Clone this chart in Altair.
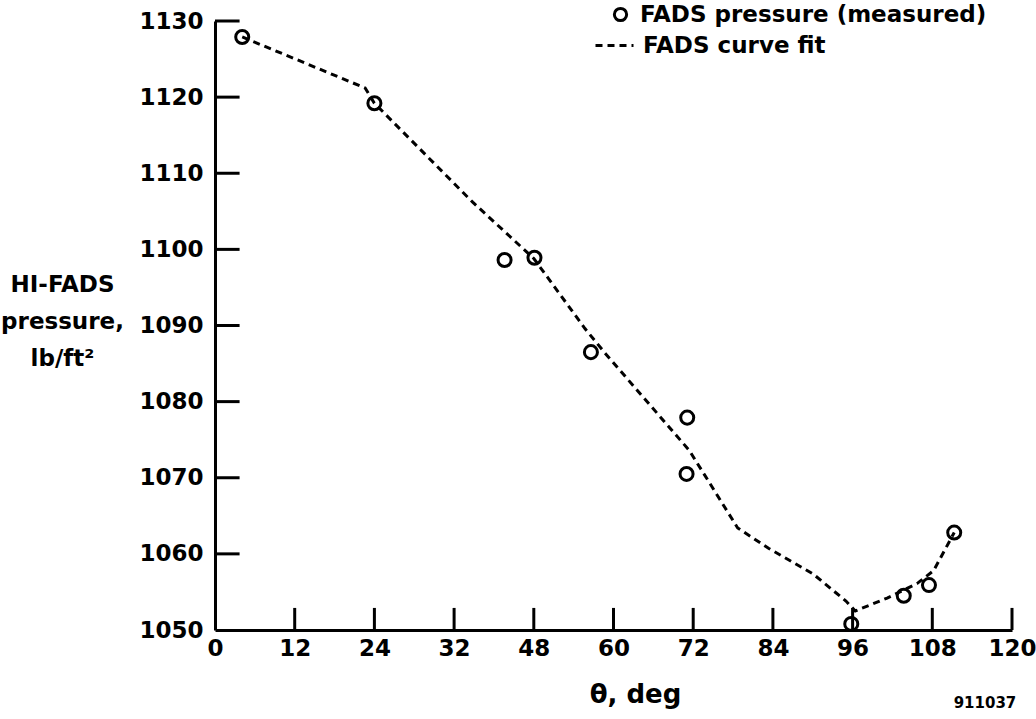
import altair as alt
import pandas as pd

# Measured FADS pressure points
theta_meas = [4.1, 24.0, 43.6, 48.1, 56.6, 71.1, 71.0, 95.8, 103.7, 107.5, 111.3]
p_meas = [1127.9, 1119.2, 1098.6, 1098.9, 1086.5, 1077.9, 1070.5, 1050.8, 1054.5, 1055.9, 1062.8]

# Curve fit vertices
theta_fit = [4.1, 22.6, 24.0, 38.8, 48.0, 55.7, 58.7, 71.4, 78.7, 83.4, 90.0, 95.0, 96.4, 101.2, 105.7, 108.2, 111.3]
p_fit = [1127.9, 1121.2, 1119.2, 1106.2, 1098.8, 1089.6, 1086.4, 1073.6, 1063.4, 1060.7, 1057.4, 1053.8, 1052.5, 1054.2, 1056.1, 1057.8, 1062.8]

# Axis ticks
x_ticks = [0, 12, 24, 36, 48, 60, 72, 84, 96, 108, 120]
x_inner_ticks = [12, 24, 36, 48, 60, 72, 84, 96, 108, 120]
y_ticks = [1050, 1060, 1070, 1080, 1090, 1100, 1110, 1120, 1130]
y_inner_ticks = [1060, 1070, 1080, 1090, 1100, 1110, 1120, 1130]

FONT = "DejaVu Sans"

meas = pd.DataFrame({"theta": theta_meas, "p": p_meas, "series": "FADS pressure (measured)"})
fit = pd.DataFrame({"theta": theta_fit, "p": p_fit, "series2": "FADS curve fit"})
xt = pd.DataFrame({"theta": x_inner_ticks, "p0": 1050.0, "p1": 1052.9})
yt = pd.DataFrame({"p": y_inner_ticks, "t0": 0.0, "t1": 3.7})

xscale = alt.Scale(domain=[0, 120], nice=False, zero=False)
yscale = alt.Scale(domain=[1050, 1130], nice=False, zero=False)

xaxis = alt.Axis(
    values=x_ticks,
    labelExpr="datum.value == 36 ? '32' : datum.label",
    ticks=False,
    grid=False,
    domainWidth=3,
    domainColor="black",
    labelFont=FONT,
    labelFontWeight="bold",
    labelFontSize=23,
    labelColor="black",
    labelPadding=7,
    labelFlush=False,
    title="θ, deg",
    titleFont=FONT,
    titleFontWeight="bold",
    titleFontSize=26,
    titleColor="black",
    titleX=420,
    titleY=72,
    titleAlign="center",
    titleBaseline="alphabetic",
)

yaxis = alt.Axis(
    values=y_ticks,
    ticks=False,
    grid=False,
    domainWidth=3,
    domainColor="black",
    labelFont=FONT,
    labelFontWeight="bold",
    labelFontSize=23,
    labelColor="black",
    labelPadding=12,
    labelFlush=False,
    format="d",
    title=["HI-FADS", "pressure,", "lb/ft²"],
    titleFont=FONT,
    titleFontWeight="bold",
    titleFontSize=23,
    titleColor="black",
    titleAngle=0,
    titleAlign="center",
    titleBaseline="top",
    titleLineHeight=37,
    titleX=-153,
    titleY=252,
)

points = alt.Chart(meas).mark_point(filled=False, strokeWidth=3, size=170, color="black", opacity=1).encode(
    x=alt.X("theta:Q", scale=xscale, axis=xaxis),
    y=alt.Y("p:Q", scale=yscale, axis=yaxis),
    shape=alt.Shape(
        "series:N",
        scale=alt.Scale(range=["circle"]),
        legend=alt.Legend(
            title=None,
            orient="none",
            legendX=394,
            legendY=-18,
            padding=0,
            symbolType="circle",
            symbolSize=150,
            symbolStrokeWidth=3,
            symbolStrokeColor="black",
            symbolFillColor="white",
            labelFont=FONT,
            labelFontWeight="bold",
            labelFontSize=23,
            labelColor="black",
            labelOffset=8,
            labelLimit=450,
        ),
    ),
)

line = alt.Chart(fit).mark_line(color="black", strokeWidth=3).encode(
    x=alt.X("theta:Q", scale=xscale),
    y=alt.Y("p:Q", scale=yscale),
    strokeDash=alt.StrokeDash(
        "series2:N",
        scale=alt.Scale(range=[[7, 5]]),
        legend=alt.Legend(
            title=None,
            orient="none",
            legendX=379,
            legendY=4,
            padding=0,
            symbolType="stroke",
            symbolSize=1444,
            symbolStrokeWidth=3,
            symbolStrokeColor="black",
            symbolDash=[7, 3.5],
            labelFont=FONT,
            labelFontWeight="bold",
            labelFontSize=23,
            labelColor="black",
            labelOffset=8,
            labelLimit=450,
        ),
    ),
)

xticks_layer = alt.Chart(xt).mark_rule(color="black", strokeWidth=3).encode(
    x=alt.X("theta:Q", scale=xscale),
    y=alt.Y("p0:Q", scale=yscale),
    y2="p1:Q",
)

yticks_layer = alt.Chart(yt).mark_rule(color="black", strokeWidth=3).encode(
    y=alt.Y("p:Q", scale=yscale),
    x=alt.X("t0:Q", scale=xscale),
    x2="t1:Q",
)

note = alt.Chart(pd.DataFrame({"txt": ["911037"]})).mark_text(
    font=FONT, fontWeight="bold", fontSize=15, color="black", align="center", baseline="middle"
).encode(x=alt.value(770), y=alt.value(682), text="txt:N")

chart = alt.layer(xticks_layer, yticks_layer, line, points, note).properties(
    width=797,
    height=609,
    autosize=alt.AutoSizeParams(type="none"),
    padding={"left": 215, "top": 21, "right": 24, "bottom": 89},
    background="white",
).configure_view(stroke=None).resolve_legend(shape="independent", strokeDash="independent")

chart.save("out.html", embed_options={"renderer": "svg", "actions": False})
